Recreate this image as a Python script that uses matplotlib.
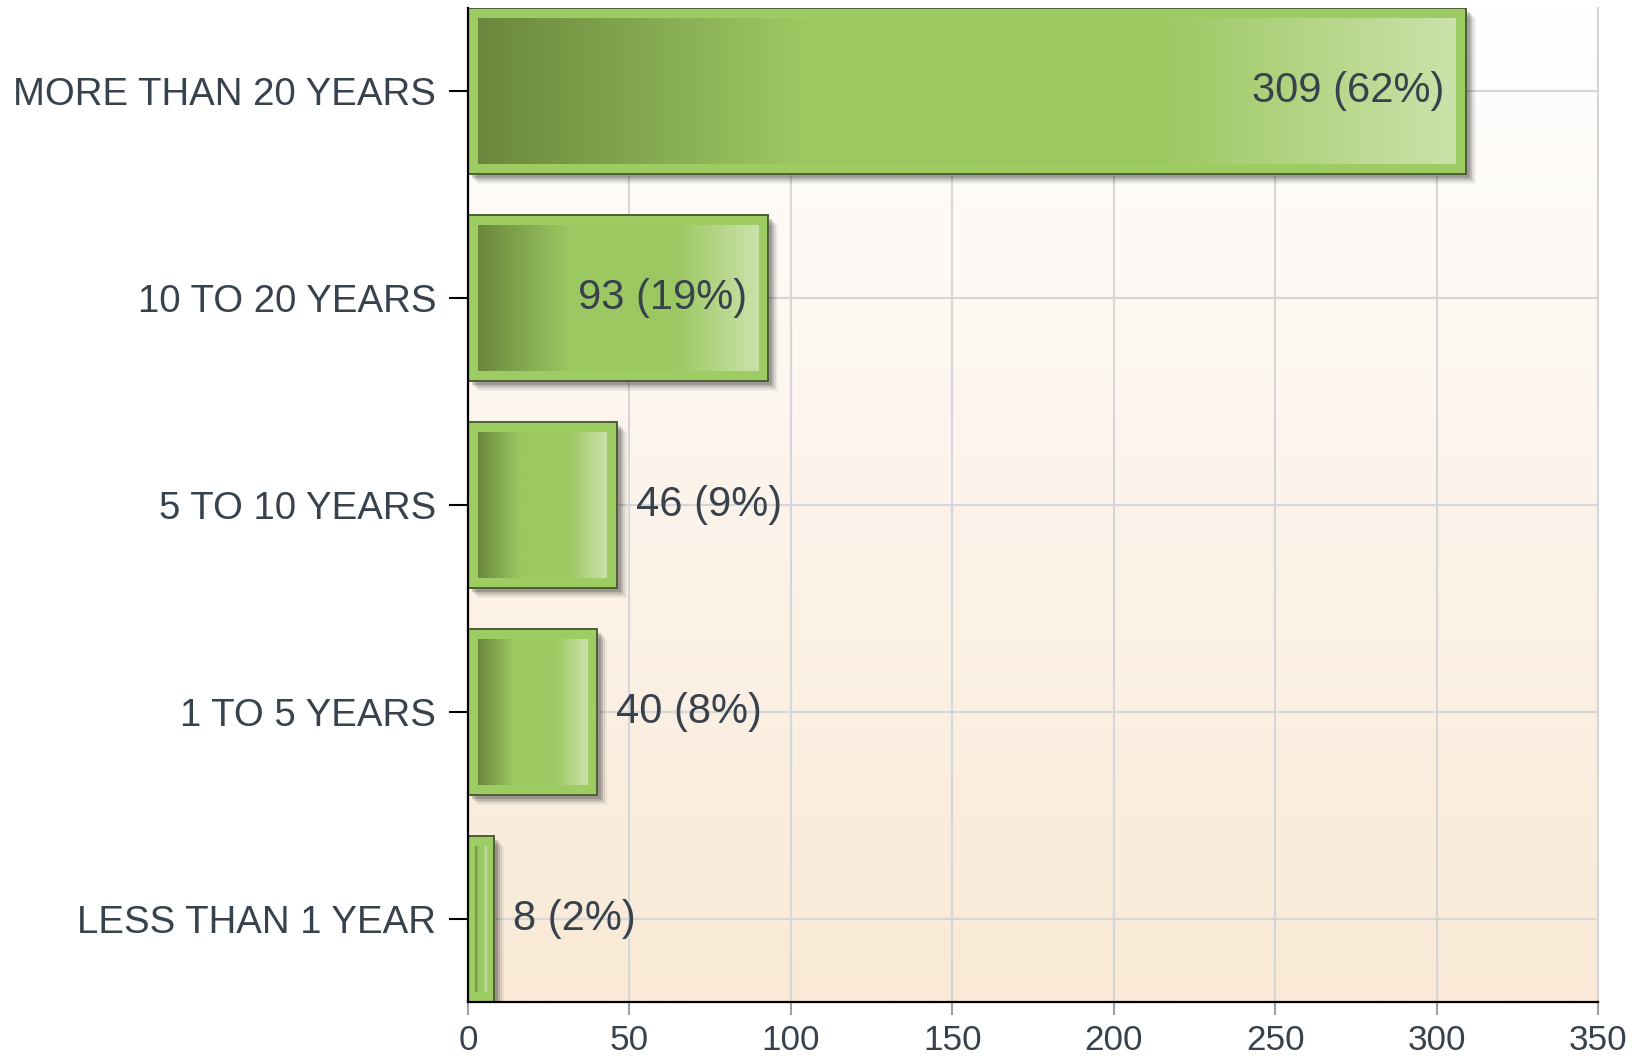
import numpy as np
import matplotlib
matplotlib.use('Agg')
import matplotlib.pyplot as plt
from matplotlib.colors import LinearSegmentedColormap, to_rgb
from matplotlib.patches import Rectangle
import matplotlib.transforms as mtransforms

categories = ["MORE THAN 20 YEARS", "10 TO 20 YEARS", "5 TO 10 YEARS",
              "1 TO 5 YEARS", "LESS THAN 1 YEAR"]
counts = [309, 93, 46, 40, 8]
percents = [62, 19, 9, 8, 2]
x_ticks = [0, 50, 100, 150, 200, 250, 300, 350]

plt.rcParams['font.family'] = ['Liberation Sans', 'DejaVu Sans']
TEXT = '#37424D'

W, H = 1638, 1063
fig = plt.figure(figsize=(W / 100, H / 100), dpi=100)
ax_l, ax_b, ax_w, ax_h = 468, 61, 1130, 994
ax = fig.add_axes([ax_l / W, ax_b / H, ax_w / W, ax_h / H])
n = len(categories)
ypos = np.arange(n)[::-1]
xlim = (0, x_ticks[-1])
ylim = (-0.4, n - 0.6)
ax.set_xlim(*xlim)
ax.set_ylim(*ylim)
pxx = ax_w / (xlim[1] - xlim[0])
pxy = ax_h / (ylim[1] - ylim[0])

# background gradient
top = np.array(to_rgb('#FFFFFF'))
bot = np.array(to_rgb('#F9E9D6'))
t = np.linspace(0, 1, 256)[:, None]
bg = (top * (1 - t) + bot * t)[:, None, :]
ax.imshow(bg, extent=(0, 1, 0, 1), transform=ax.transAxes, aspect='auto',
          zorder=0, interpolation='bilinear')

ax.set_axisbelow(True)
ax.grid(True, color='#d6d6d6', lw=1.5, zorder=0.5)

# bars
bars = ax.barh(ypos, counts, height=0.8, color='#9DCC63', edgecolor='#4D5E38',
               lw=1.4, zorder=3)

grad = LinearSegmentedColormap.from_list(
    'g', [(0.0, '#6A883D'), (0.33, '#9CC862'), (0.70, '#9CC862'), (1.0, '#CAE2A9')])
gimg = grad(np.linspace(0, 1, 256))[None, :, :3]

for rect in bars:
    x0, y0 = rect.get_x(), rect.get_y()
    w, h = rect.get_width(), rect.get_height()
    # shadow
    for d, a in [(10, 0.06), (8, 0.10), (6, 0.16), (4, 0.22)]:
        tr = ax.transData + mtransforms.ScaledTranslation(d / 100, -d / 100, fig.dpi_scale_trans)
        ax.add_patch(Rectangle((x0, y0), w, h, transform=tr, facecolor='#2A2A2A',
                               edgecolor='none', alpha=a, zorder=2))
    # inner gradient
    wpx = w * pxx
    ix = min(10, wpx * 0.27) / pxx
    iy = 10 / pxy
    ax.imshow(gimg, extent=(x0 + ix, x0 + w - ix, y0 + iy, y0 + h - iy),
              aspect='auto', zorder=4, interpolation='bilinear')

ax.set_xlim(*xlim)
ax.set_ylim(*ylim)

# value labels
fig.canvas.draw()
renderer = fig.canvas.get_renderer()
for y, c, p in zip(ypos, counts, percents):
    label = f"{c} ({p}%)"
    txt = ax.text(c, y, label, fontsize=30, color=TEXT, va='center', ha='left', zorder=6)
    tw = txt.get_window_extent(renderer).width
    if c * pxx > tw + 45:
        txt.set_ha('right')
        txt.set_x(c - 21 / pxx)
    else:
        txt.set_x(c + 19 / pxx)

ax.set_yticks(ypos, categories)
ax.set_xticks(x_ticks, [str(v) for v in x_ticks])
ax.tick_params(axis='y', length=14, width=1.5, color='black', pad=9,
               labelsize=27.6, labelcolor=TEXT)
ax.tick_params(axis='x', length=9.5, width=1.5, color='#a0a0a0', pad=6,
               labelsize=25.3, labelcolor=TEXT)

ax.spines['top'].set_visible(False)
ax.spines['right'].set_color('#d6d6d6')
ax.spines['right'].set_linewidth(1.5)
for s in ('left', 'bottom'):
    ax.spines[s].set_color('black')
    ax.spines[s].set_linewidth(1.6)
    ax.spines[s].set_zorder(7)

fig.savefig('out.png', dpi=100, facecolor='white')
